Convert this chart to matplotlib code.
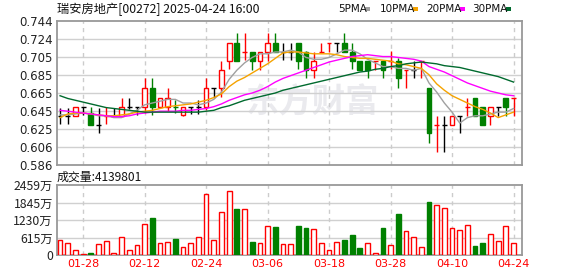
import numpy as np
import matplotlib
matplotlib.use('Agg')
from matplotlib import pyplot as plt
from matplotlib.patches import Rectangle

plt.rcParams['font.family'] = ['DejaVu Sans']
cjk = ['Noto Sans CJK SC', 'DejaVu Sans']

# daily k-line, 瑞安房地产 00272
opens = [0.640, 0.640, 0.640, 0.650, 0.643, 0.630, 0.640, 0.640, 0.640, 0.650,
         0.650, 0.650, 0.671, 0.650, 0.650, 0.650, 0.641, 0.650, 0.650, 0.650,
         0.670, 0.671, 0.700, 0.720, 0.710, 0.710, 0.700, 0.710, 0.720, 0.710,
         0.710, 0.720, 0.710, 0.690, 0.710, 0.720, 0.720, 0.720, 0.710, 0.700,
         0.700, 0.700, 0.700, 0.700, 0.700, 0.690, 0.690, 0.700, 0.671, 0.630,
         0.630, 0.630, 0.640, 0.650, 0.660, 0.650, 0.640, 0.650, 0.660, 0.660]
highs = [0.649, 0.649, 0.650, 0.650, 0.650, 0.648, 0.650, 0.649, 0.660, 0.660,
         0.650, 0.681, 0.681, 0.660, 0.671, 0.657, 0.650, 0.650, 0.657, 0.681,
         0.671, 0.700, 0.720, 0.731, 0.731, 0.710, 0.710, 0.731, 0.731, 0.720,
         0.720, 0.720, 0.711, 0.710, 0.720, 0.720, 0.720, 0.731, 0.720, 0.700,
         0.700, 0.700, 0.700, 0.711, 0.703, 0.690, 0.700, 0.700, 0.671, 0.640,
         0.640, 0.640, 0.640, 0.660, 0.660, 0.650, 0.650, 0.650, 0.660, 0.660]
lows = [0.631, 0.631, 0.640, 0.641, 0.630, 0.621, 0.631, 0.639, 0.640, 0.647,
        0.641, 0.643, 0.641, 0.650, 0.645, 0.643, 0.640, 0.642, 0.642, 0.646,
        0.660, 0.661, 0.691, 0.700, 0.701, 0.690, 0.690, 0.700, 0.710, 0.701,
        0.701, 0.691, 0.681, 0.681, 0.710, 0.710, 0.710, 0.710, 0.691, 0.690,
        0.681, 0.690, 0.681, 0.691, 0.671, 0.671, 0.681, 0.681, 0.610, 0.600,
        0.600, 0.630, 0.621, 0.640, 0.640, 0.630, 0.630, 0.640, 0.640, 0.640]
closes = [0.640, 0.640, 0.650, 0.650, 0.630, 0.630, 0.640, 0.640, 0.650, 0.650,
          0.650, 0.670, 0.650, 0.660, 0.660, 0.650, 0.650, 0.650, 0.650, 0.670,
          0.670, 0.690, 0.720, 0.700, 0.710, 0.700, 0.710, 0.720, 0.710, 0.710,
          0.710, 0.700, 0.690, 0.700, 0.710, 0.720, 0.720, 0.710, 0.700, 0.690,
          0.690, 0.700, 0.690, 0.700, 0.681, 0.690, 0.690, 0.700, 0.621, 0.630,
          0.630, 0.640, 0.640, 0.650, 0.640, 0.630, 0.650, 0.650, 0.650, 0.660]

# volume in 万股
volume = [530, 410, 175, 35, 82, 375, 490, 80, 620, 175,
          350, 1075, 1300, 410, 445, 560, 270, 410, 620, 2140,
          527, 1500, 2245, 1615, 1615, 456, 410, 1018, 983, 386,
          375, 1018, 948, 913, 410, 175, 456, 527, 700, 257,
          410, 70, 948, 340, 1440, 830, 620, 270, 1860, 1745,
          1650, 936, 878, 1040, 316, 421, 725, 490, 1006, 414]

ma5 = [0.641, 0.641, 0.642, 0.643, 0.642, 0.640, 0.640, 0.638, 0.638, 0.642,
       0.646, 0.652, 0.654, 0.656, 0.658, 0.658, 0.654, 0.654, 0.652, 0.654,
       0.658, 0.666, 0.680, 0.690, 0.698, 0.704, 0.708, 0.708, 0.710, 0.710,
       0.712, 0.710, 0.704, 0.702, 0.702, 0.704, 0.708, 0.712, 0.712, 0.708,
       0.702, 0.698, 0.694, 0.694, 0.692, 0.692, 0.690, 0.692, 0.676, 0.666,
       0.654, 0.644, 0.632, 0.638, 0.640, 0.640, 0.642, 0.644, 0.644, 0.648]
ma10 = [0.638, 0.642, 0.643, 0.643, 0.642, 0.641, 0.640, 0.640, 0.641, 0.642,
        0.644, 0.645, 0.646, 0.648, 0.650, 0.651, 0.652, 0.653, 0.655, 0.657,
        0.660, 0.664, 0.672, 0.678, 0.682, 0.687, 0.692, 0.697, 0.703, 0.709,
        0.710, 0.710, 0.709, 0.708, 0.708, 0.708, 0.707, 0.705, 0.704, 0.703,
        0.703, 0.702, 0.701, 0.700, 0.697, 0.696, 0.694, 0.692, 0.685, 0.675,
        0.668, 0.662, 0.658, 0.654, 0.650, 0.647, 0.643, 0.638, 0.641, 0.644]
ma20 = [0.646, 0.645, 0.644, 0.643, 0.642, 0.641, 0.640, 0.639, 0.639, 0.640,
        0.642, 0.643, 0.644, 0.645, 0.645, 0.645, 0.646, 0.646, 0.647, 0.648,
        0.650, 0.653, 0.657, 0.660, 0.663, 0.665, 0.668, 0.672, 0.677, 0.681,
        0.684, 0.687, 0.690, 0.693, 0.696, 0.699, 0.701, 0.703, 0.705, 0.706,
        0.707, 0.706, 0.705, 0.705, 0.704, 0.703, 0.702, 0.700, 0.694, 0.691,
        0.688, 0.684, 0.680, 0.676, 0.673, 0.670, 0.667, 0.665, 0.663, 0.662]
ma30 = [0.662, 0.659, 0.657, 0.655, 0.653, 0.651, 0.649, 0.648, 0.647, 0.646,
        0.645, 0.644, 0.644, 0.644, 0.644, 0.644, 0.644, 0.644, 0.644, 0.645,
        0.646, 0.649, 0.651, 0.654, 0.657, 0.659, 0.661, 0.663, 0.665, 0.668,
        0.670, 0.672, 0.674, 0.676, 0.678, 0.680, 0.682, 0.684, 0.686, 0.688,
        0.689, 0.691, 0.692, 0.694, 0.695, 0.697, 0.698, 0.699, 0.698, 0.697,
        0.695, 0.694, 0.693, 0.691, 0.689, 0.687, 0.685, 0.683, 0.680, 0.677]

date_pos = [3, 11, 19, 27, 35, 43, 51, 59]
date_labels = ['01-28', '02-12', '02-24', '03-06', '03-18', '03-28', '04-10', '04-24']
price_ticks = ['0.586', '0.606', '0.625', '0.645', '0.665', '0.685', '0.705', '0.724', '0.744']
vol_ticks = ['0', '615万', '1230万', '1845万', '2459万']

RED = '#ff0000'
GREEN = '#008000'
W, H = 578, 276

fig = plt.figure(figsize=(W / 100, H / 100), dpi=100)
ax = fig.add_axes([57 / W, 1 - 165 / H, 465 / W, 144 / H])
axv = fig.add_axes([57 / W, 1 - 255 / H, 465 / W, 70 / H])

n = len(closes)
x = np.arange(n)
bw = 0.62

# candle colours: body direction, dojis by change vs previous close
cols = []
vcols = []
for i in range(n):
    prev = closes[i - 1] if i > 0 else closes[i]
    if closes[i] > opens[i]:
        cols.append(RED)
    elif closes[i] < opens[i]:
        cols.append(GREEN)
    elif closes[i] > prev:
        cols.append(RED)
    elif closes[i] < prev:
        cols.append(GREEN)
    else:
        cols.append('black')
    vcols.append(RED if closes[i] >= prev else GREEN)

ymin, ymax = 0.586, 0.744
ax.set_xlim(-0.4, 60.1)
ax.set_ylim(ymin, ymax)
axv.set_xlim(-0.4, 60.1)
axv.set_ylim(0, 2459)

ax.text((245 - 57) / 465, 0.43, '东方财富', transform=ax.transAxes, fontsize=24,
        family=cjk, weight='bold', color='#eaeaee', ha='left', va='center', zorder=0)

for i in range(n):
    c = cols[i]
    ax.vlines(x[i], lows[i], highs[i], color=c, lw=1, zorder=3)
    if opens[i] == closes[i]:
        ax.hlines(closes[i], x[i] - bw / 2, x[i] + bw / 2, color=c, lw=1, zorder=4)
    else:
        lo = min(opens[i], closes[i])
        hi = max(opens[i], closes[i])
        face = 'white' if c == RED else GREEN
        ax.add_patch(Rectangle((x[i] - bw / 2, lo), bw, hi - lo, facecolor=face,
                               edgecolor=c, lw=1, zorder=4))

ax.plot(x, ma5, color='#a0a0a0', lw=1, zorder=5)
ax.plot(x, ma10, color='#f5a300', lw=1, zorder=5)
ax.plot(x, ma20, color='#ff00ff', lw=1, zorder=5)
ax.plot(x, ma30, color='#006a2e', lw=1, zorder=5)

for i in range(n):
    if vcols[i] == RED:
        axv.add_patch(Rectangle((x[i] - bw / 2, 0), bw, volume[i], facecolor='white',
                                edgecolor=RED, lw=1, zorder=3))
    else:
        axv.add_patch(Rectangle((x[i] - bw / 2, 0), bw, volume[i], facecolor=GREEN,
                                edgecolor=GREEN, lw=1, zorder=3))

# grids and frames
for a, ticks in ((ax, np.linspace(ymin, ymax, 9)), (axv, np.linspace(0, 2459, 5))):
    for t in ticks[1:-1]:
        a.axhline(t, color='#d0d0d0', lw=1, zorder=1)
    for p in date_pos:
        a.axvline(p, color='#cccccc', lw=1, ls=(0, (3, 3)), zorder=1)
    for s in a.spines.values():
        s.set_color('#999999')
        s.set_linewidth(1.3)
    a.tick_params(length=0, pad=3)

ax.set_yticks(np.linspace(ymin, ymax, 9))
ax.set_yticklabels(price_ticks, fontsize=8.5, color='#222222')
ax.set_xticks([])

axv.set_yticks(np.linspace(0, 2459, 5))
axv.set_yticklabels(vol_ticks, fontsize=8.8, color='#222222', family=cjk)
axv.set_xticks(date_pos)
axv.set_xticklabels(date_labels, fontsize=8, color=RED)
axv.tick_params(axis='x', pad=3)

fig.text(57 / W, 1 - 9 / H, '瑞安房地产[00272] 2025-04-24 16:00', fontsize=8.8,
         family=cjk, va='center', ha='left', color='#111111')
fig.text(57 / W, 1 - 177 / H, '成交量:4139801', fontsize=8.6, family=cjk,
         va='center', ha='left', color='#111111')

legend = [('5PMA', 338, 365, '#a0a0a0'), ('10PMA', 380, 413, '#f5a300'),
          ('20PMA', 426, 460, '#ff00ff'), ('30PMA', 472, 506, '#006a2e')]
for name, tx, sx, col in legend:
    fig.text(tx / W, 1 - 9 / H, name, fontsize=7.5, va='center', ha='left',
             color='#111111')
    fig.patches.append(Rectangle((sx / W, 1 - 10.5 / H), 5 / W, 3 / H, facecolor=col,
                                 edgecolor='none', transform=fig.transFigure,
                                 figure=fig))

fig.savefig('out.png', dpi=100, facecolor='white')
